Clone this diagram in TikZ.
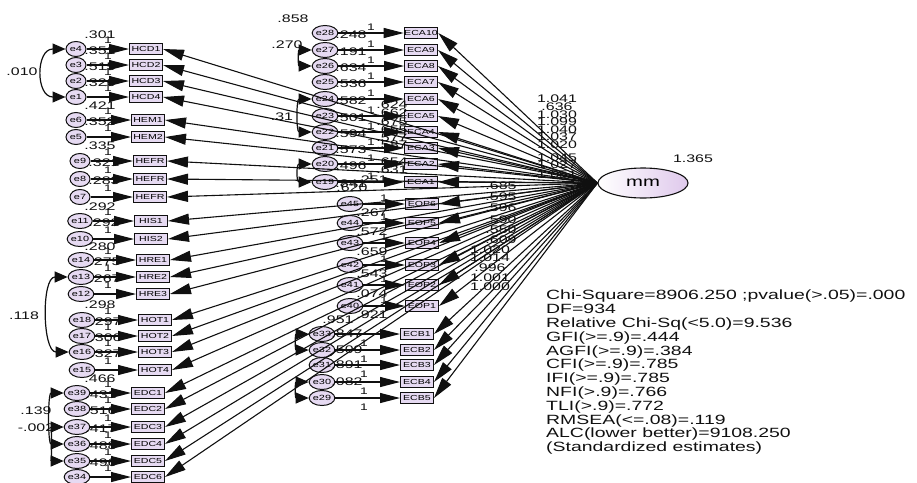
\documentclass[tikz,border=0pt]{standalone}
\usepackage{fontspec}
\setmainfont{Liberation Sans}[FakeStretch=1.45]
\usetikzlibrary{arrows.meta, shapes.geometric, calc}
\definecolor{itemfill}{HTML}{E6DAF2}
\definecolor{latentfill}{HTML}{DFC9EC}
\definecolor{ink}{HTML}{101010}

\begin{document}
\begin{tikzpicture}[x=1pt, y=-1pt,
    obsbox/.style={rectangle, draw=ink, fill=itemfill, line width=1pt,
                   minimum width=33pt, minimum height=11pt, inner sep=0pt,
                   font=\fontsize{7.3}{7}\selectfont},
    errcirc/.style={ellipse, draw=ink, fill=itemfill, line width=1pt,
                    minimum width=20pt, minimum height=15pt, inner sep=0pt,
                    font=\fontsize{7.5}{7}\selectfont},
    load/.style={-{Triangle[length=21pt, width=11pt]}, line width=1.1pt, draw=ink},
    errpath/.style={-{Triangle[length=20pt, width=10pt]}, line width=1.1pt, draw=ink},
    covar/.style={{Triangle[length=13pt, width=11pt]}-{Triangle[length=13pt, width=11pt]},
                  line width=1.2pt, draw=ink},
    est/.style={font=\fontsize{11}{11}\selectfont, inner sep=0pt, text=ink},
    fixed/.style={font=\fontsize{9.5}{9}\selectfont, inner sep=0pt, text=ink}
]
\useasboundingbox (0,0) rectangle (917,482);

% Latent factor
\node[ellipse, draw=ink, line width=1.1pt, left color=white, right color=latentfill,
      minimum width=90pt, minimum height=30pt, font=\fontsize{14}{14}\selectfont]
      (mm) at (643,183) {mm};
\node[est] at (693,159) {1.365};

% Left column (HCD, HEM, HEFR, HIS, HRE, HOT, EDC)
\foreach \y/\cx/\bx/\e/\v/\r [count=\i] in {
    49/76/146/e4/HCD1/.351, 65/76/146/e3/HCD2/.515, 81/76/146/e2/HCD3/.326,
    97/76/146/e1/HCD4/{}, 120/76/148/e6/HEM1/.352, 137/76/148/e5/HEM2/{},
    161/80/150/e9/HEFR/.321, 179/80/150/e8/HEFR/.283, 197/80/150/e7/HEFR/{},
    221/80/151/e11/HIS1/.292, 239/80/151/e10/HIS2/{},
    260/81/153/e14/HRE1/.275, 277/81/153/e13/HRE2/.267, 294/81/153/e12/HRE3/{},
    320/82/155/e18/HOT1/.297, 336/82/155/e17/HOT2/.306, 352/82/155/e16/HOT3/.327,
    370/82/155/e15/HOT4/{},
    393/77/148/e39/EDC1/.431, 409/77/148/e38/EDC2/.516, 427/77/148/e37/EDC3/.417,
    444/77/148/e36/EDC4/.488, 461/77/148/e35/EDC5/.496, 477/77/148/e34/EDC6/{}} {
  \node[errcirc] (errL\i) at (\cx,\y) {\e};
  \node[obsbox] (obsL\i) at (\bx,\y) {\v};
  \node[fixed] at (108,\y-9) {1};
  \node[est] at (\cx+24,\y+2) {\r};
}
\foreach \y/\r in {35/.301, 106/.421, 146/.335, 207/.292, 247/.280, 305/.298, 379/.466}
  \node[est] at (100,\y) {\r};

% Middle column: ECA
\foreach \y/\e/\v/\r [count=\i] in {
    33/e28/ECA10/.248, 50/e27/ECA9/.191, 66/e26/ECA8/.634, 82/e25/ECA7/.536,
    99/e24/ECA6/.582, 116/e23/ECA5/.501, 132/e22/ECA4/.594, 148/e21/ECA3/.573,
    164/e20/ECA2/.496, 182/e19/ECA1/.841} {
  \node[errcirc] (errA\i) at (325,\y) {\e};
  \node[obsbox] (obsA\i) at (421,\y) {\v};
  \node[fixed] at (371,\y-6) {1};
  \node[est] at (351,\y+2) {\r};
}
\node[est] at (293,19) {.858};

% Middle column: EOP
\foreach \y/\e/\v/\r [count=\i] in {
    204/e45/EOP6/.267, 223/e44/EOP5/.572, 243/e43/EOP4/.659,
    265/e42/EOP3/.543, 285/e41/EOP2/.074, 306/e40/EOP1/.921} {
  \node[errcirc] (errO\i) at (350,\y) {\e};
  \node[obsbox] (obsO\i) at (422,\y) {\v};
  \node[fixed] at (384,\y-6) {1};
  \node[est] at (372,\y+9) {\r};
}
\node[est] at (352,188) {.620};
\node[est] at (372,180) {.251};

% Middle column: ECB
\foreach \y/\e/\v/\r [count=\i] in {
    334/e33/ECB1/.847, 350/e32/ECB2/.509, 365/e31/ECB3/.891,
    382/e30/ECB4/.082, 398/e29/ECB5/{}} {
  \node[errcirc] (errB\i) at (322,\y) {\e};
  \node[obsbox] (obsB\i) at (417,\y) {\v};
  \node[fixed] at (364,\y+9) {1};
  \node[est] at (347,\y) {\r};
}
\node[est] at (338,320) {.951};

% Squared correlations beside ECA boxes
\foreach \y/\r in {105/.624, 113/.662, 122/.675, 130/.655, 138/.577,
                   145/.587, 162/.654, 170/.631}
  \node[est] at (392,\y) {\r};

% Error paths
\foreach \i in {1,...,24}
  \draw[errpath] (errL\i) -- (obsL\i);
\foreach \i in {1,...,10}
  \draw[errpath] (errA\i) -- (obsA\i);
\foreach \i in {1,...,6}
  \draw[errpath] (errO\i) -- (obsO\i);
\foreach \i in {1,...,5}
  \draw[errpath] (errB\i) -- (obsB\i);

% Loadings from mm
\foreach \i in {1,...,24}
  \draw[load] (mm.west) -- (obsL\i.east);
\foreach \i in {1,...,10}
  \draw[load] (mm.west) -- (obsA\i.east);
\foreach \i in {1,...,6}
  \draw[load] (mm.west) -- (obsO\i.east);
\foreach \i in {1,...,5}
  \draw[load] (mm.west) -- (obsB\i.east);

% Loading estimates
\foreach \y/\r in {99/1.041, 107/.636, 115/1.030, 122/1.099, 130/1.040,
                   137/1.037, 145/1.020, 158/1.045, 165/1.027, 175/1.051}
  \node[est] at (557,\y) {\r};
\foreach \y/\r in {186/.685, 197/.595, 208/.596, 220/.590, 230/.550, 240/.609}
  \node[est] at (501,\y) {\r};
\foreach \y/\r in {250/1.020, 258/1.014, 268/.996, 278/1.001, 287/1.000}
  \node[est] at (490,\y) {\r};

% Covariances
\draw[covar] (errL1.west) to[out=180, in=180, looseness=1.6] (errL4.west);
\node[est] at (22,72) {.010};
\draw[covar] (errL13.west) to[out=180, in=180, looseness=0.9] (errL17.west);
\node[est] at (24,316) {.118};
\draw[covar] (errL19.west) to[out=180, in=180, looseness=0.8] (errL22.west);
\node[est] at (36,411) {.139};
\draw[covar] (errL21.west) to[out=180, in=180, looseness=0.9] (errL23.west);
\node[est] at (36,428) {-.002};
\draw[covar] (errA2.west) to[out=180, in=180, looseness=2.2] (errA3.west);
\node[est] at (287,45) {.270};
\draw[covar] (errA5.west) to[out=180, in=180, looseness=1.2] (errA7.west);
\node[est] at (282,117) {.31};
\draw[covar] (errA9.west) to[out=180, in=180, looseness=2.2] (errA10.west);
\draw[covar] (errB1.west) to[out=180, in=180, looseness=2.2] (errB2.west);
\draw[covar] (errB4.west) to[out=180, in=180, looseness=2.2] (errB5.west);

% Fit indices
\node[anchor=north west, align=left, inner sep=0pt, text=ink,
      font=\fontsize{13.4}{13.8}\selectfont] (fit) at (546,290) {%
Chi-Square=8906.250 ;pvalue(>.05)=.000\\
DF=934\\
Relative Chi-Sq(<5.0)=9.536\\
GFI(>=.9)=.444\\
AGFI(>=.9)=.384\\
CFI(>=.9)=.785\\
IFI(>=.9)=.785\\
NFI(>.9)=.766\\
TLI(>.9)=.772\\
RMSEA(<=.08)=.119\\
ALC(lower better)=9108.250\\
(Standardized estimates)};
\end{tikzpicture}
\end{document}
